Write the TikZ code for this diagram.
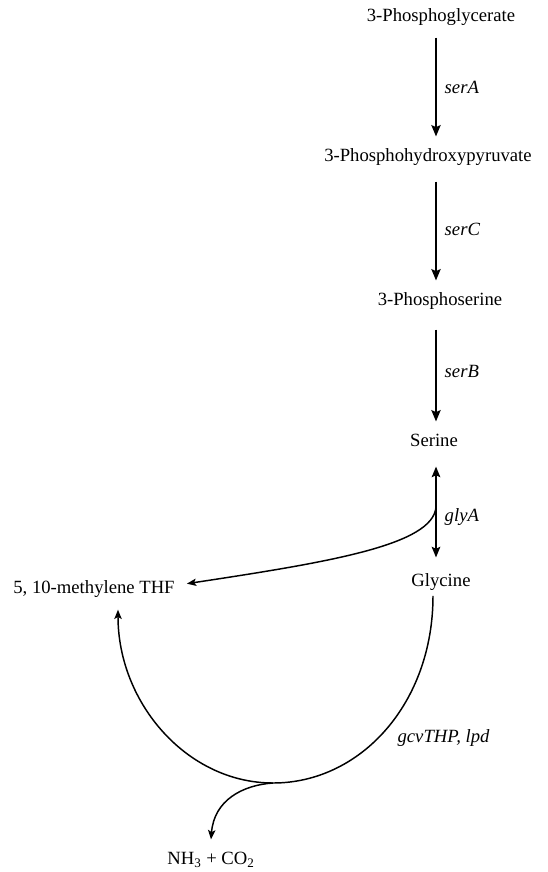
\documentclass[tikz,border=0pt]{standalone}
\usepackage{fontspec}
\setmainfont{Liberation Serif}
\usetikzlibrary{arrows.meta, calc}
\tikzset {
    metab/.style = {inner xsep = 9pt, inner ysep = 9pt, text height = 9.5pt, text depth = 3pt, font = \fontsize{14}{16}\selectfont},
    gene/.style = {anchor = west, inner sep = 1pt, font = \fontsize{14}{16}\selectfont\itshape},
    flux/.style = {line width = 1.1pt, -{Stealth[length = 8.5pt, width = 7pt, inset = 1.5pt]}},
    both flux/.style = {line width = 1.1pt, {Stealth[length = 8pt, width = 6.5pt, inset = 1.5pt]}-{Stealth[length = 8pt, width = 6.5pt, inset = 1.5pt]}},
    side flux/.style = {line width = 1.1pt, -{Stealth[length = 7pt, width = 5.5pt, inset = 1.5pt]}}
}
\begin{document}
\begin{tikzpicture}[x = 0.75pt, y = -0.75pt]
            \useasboundingbox (0, 0) rectangle (548, 872);
            \coordinate (col) at (436, 0);
            \coordinate (split) at (273, 783);
            %
            \node (pga) [metab] at (441, 17) {3-Phosphoglycerate};
            \node (php) [metab] at (428, 157) {3-Phosphohydroxypyruvate};
            \node (pser) [metab] at (440, 301) {3-Phosphoserine};
            \node (ser) [metab] at (434, 442) {Serine};
            \node (gly) [metab] at (441, 582) {Glycine};
            \node (thf) [metab] at (94, 589) {5, 10-methylene THF};
            \node (nh) [metab] at (211, 860) {NH\textsubscript{3} + CO\textsubscript{2}};
            %
            \draw [flux] (pga.south -| col) -- (php.north -| col)
                node [gene, midway, xshift = 5pt] {serA};
            \draw [flux, shorten <= 3pt] (php.south -| col) -- (pser.north -| col)
                node [gene, midway, xshift = 5pt] {serC};
            \draw [flux, shorten <= 6pt] (pser.south -| col) -- (ser.north -| col)
                node [gene, midway, xshift = 5pt] {serB};
            \draw [both flux, shorten <= 3pt, shorten >= 3pt] (ser.south -| col) -- (gly.north -| col)
                node [gene, pos = 0.55, xshift = 5pt] {glyA};
            %
            \draw [side flux] (436, 507) .. controls (433, 545) and (330, 562) .. ([yshift = 4pt]thf.east);
            \draw [side flux] ([xshift = -6pt, yshift = 5pt]gly.south)
                .. controls (433, 703) and (361, 783) .. (split)
                .. controls (187, 783) and (118, 703) .. ([xshift = 18pt]thf.south);
            \draw [side flux] (split) .. controls (243, 785) and (214, 800) .. (nh.north);
            \node [gene] at (396, 738) {gcvTHP, lpd};
        \end{tikzpicture}
\end{document}
